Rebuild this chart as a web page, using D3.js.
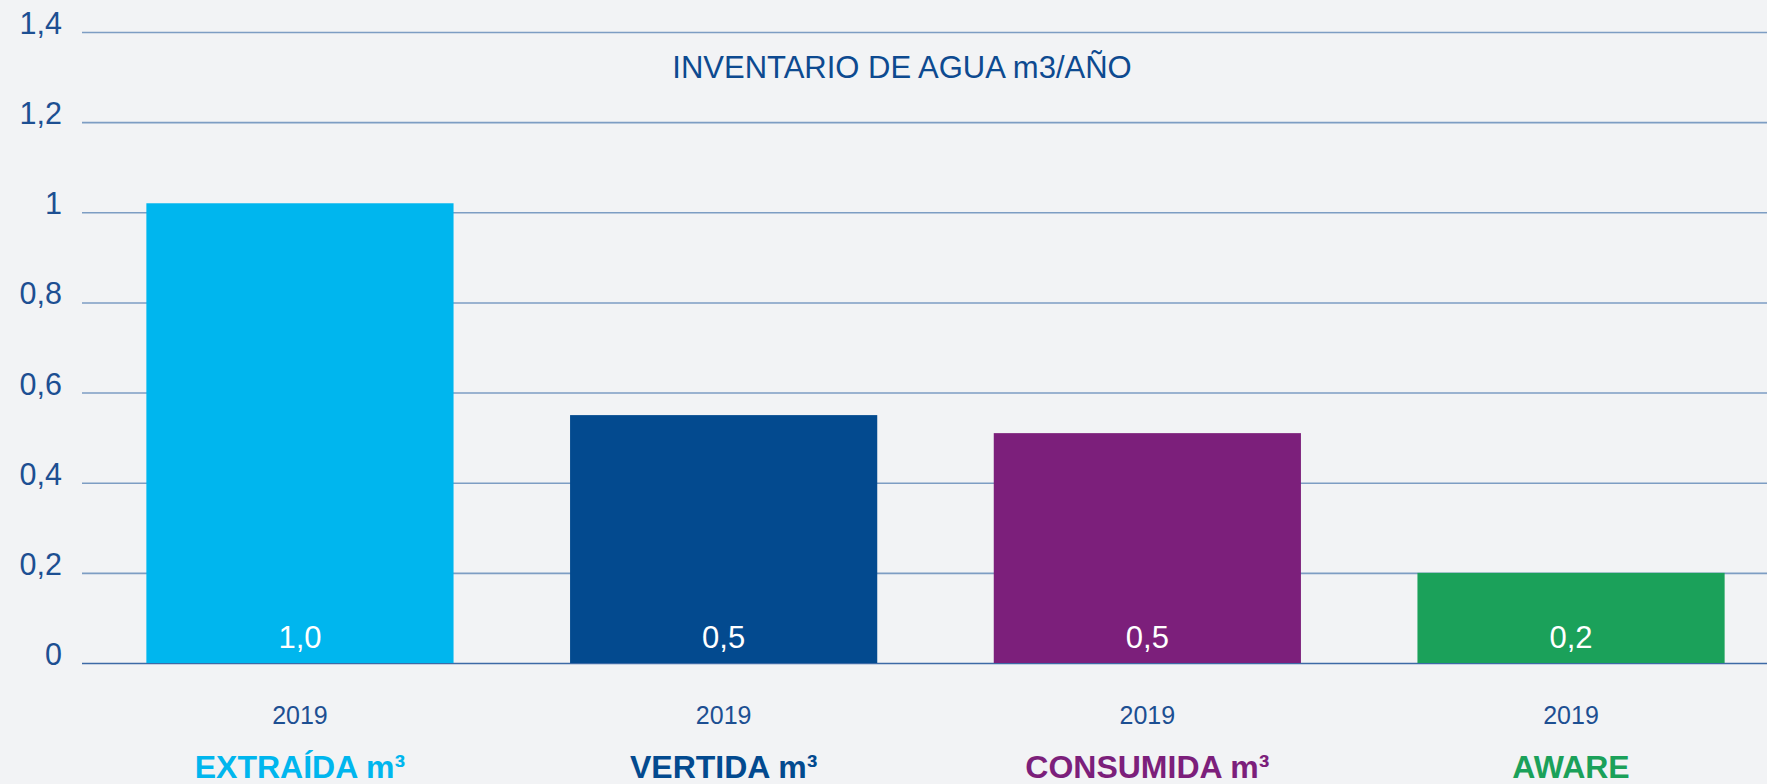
<!DOCTYPE html>
<html>
<head>
<meta charset="utf-8">
<script src="https://cdn.jsdelivr.net/npm/d3@7"></script>
<style>
	html, body { margin: 0; padding: 0; background: #f2f3f5; }
	svg { display: block; font-family: "Liberation Sans", Arial, sans-serif; }
</style>
</head>
<body>
<div id="chart"></div>
<script>
// Data
const categories = ["EXTRAÍDA m³", "VERTIDA m³", "CONSUMIDA m³", "AWARE"];
const years = ["2019", "2019", "2019", "2019"];
const values = [1.02, 0.55, 0.51, 0.2];
const valueLabels = ["1,0", "0,5", "0,5", "0,2"];
const barColors = ["#00b6ee", "#034a8f", "#7c1f7b", "#1ba15a"];
const yTicks = [0, 0.2, 0.4, 0.6, 0.8, 1, 1.2, 1.4];
const title = "INVENTARIO DE AGUA m3/AÑO";

const width = 1767, height = 784;
const esFormat = d3.formatLocale({ decimal: ",", thousands: ".", grouping: [3], currency: ["", "€"] }).format("~g");

const svg = d3.select("#chart")
	.append("svg")
	.attr("width", width)
	.attr("height", height);

svg.append("rect")
	.attr("width", width)
	.attr("height", height)
	.attr("fill", "#f2f3f5");

const y = d3.scaleLinear()
	.domain([0, 1.4])
	.range([663, 32]);

const x = d3.scaleBand()
	.domain(categories)
	.range([104, 1767])
	.paddingInner(0.275)
	.paddingOuter(0.1);

// Gridlines + tick labels
const yAxis = d3.axisLeft(y)
	.tickValues(yTicks)
	.tickSize(-(width - 82))
	.tickPadding(20)
	.tickFormat(esFormat);

const axisG = svg.append("g")
	.attr("transform", "translate(82,0)")
	.call(yAxis);

axisG.select(".domain").remove();
axisG.selectAll(".tick line")
	.attr("stroke", d => d === 0 ? "#3d6aa6" : "#7d9dc3")
	.attr("stroke-width", 1.6);
axisG.selectAll(".tick text")
	.attr("fill", "#1d4f92")
	.attr("font-size", 30.5)
	.attr("dy", "0.05em");

// Title
svg.append("text")
	.attr("x", 902)
	.attr("y", 78)
	.attr("text-anchor", "middle")
	.attr("fill", "#0d4a90")
	.attr("font-size", 31)
	.text(title);

// Bars
svg.selectAll("rect.bar")
	.data(categories)
	.enter()
	.append("rect")
	.attr("class", "bar")
	.attr("x", d => x(d))
	.attr("y", (d, i) => y(values[i]))
	.attr("width", x.bandwidth())
	.attr("height", (d, i) => y(0) - y(values[i]))
	.attr("fill", (d, i) => barColors[i]);

// Value labels inside bars
svg.selectAll("text.value")
	.data(categories)
	.enter()
	.append("text")
	.attr("class", "value")
	.attr("x", d => x(d) + x.bandwidth() / 2)
	.attr("y", y(0) - 15)
	.attr("text-anchor", "middle")
	.attr("fill", "#ffffff")
	.attr("font-size", 31)
	.text((d, i) => valueLabels[i]);

// Year labels
svg.selectAll("text.year")
	.data(categories)
	.enter()
	.append("text")
	.attr("class", "year")
	.attr("x", d => x(d) + x.bandwidth() / 2)
	.attr("y", 724)
	.attr("text-anchor", "middle")
	.attr("fill", "#1d4f92")
	.attr("font-size", 25)
	.text((d, i) => years[i]);

// Category labels
svg.selectAll("text.category")
	.data(categories)
	.enter()
	.append("text")
	.attr("class", "category")
	.attr("x", d => x(d) + x.bandwidth() / 2)
	.attr("y", 778)
	.attr("text-anchor", "middle")
	.attr("fill", (d, i) => barColors[i])
	.attr("font-size", 32)
	.attr("font-weight", "bold")
	.text(d => d);
</script>
</body>
</html>
